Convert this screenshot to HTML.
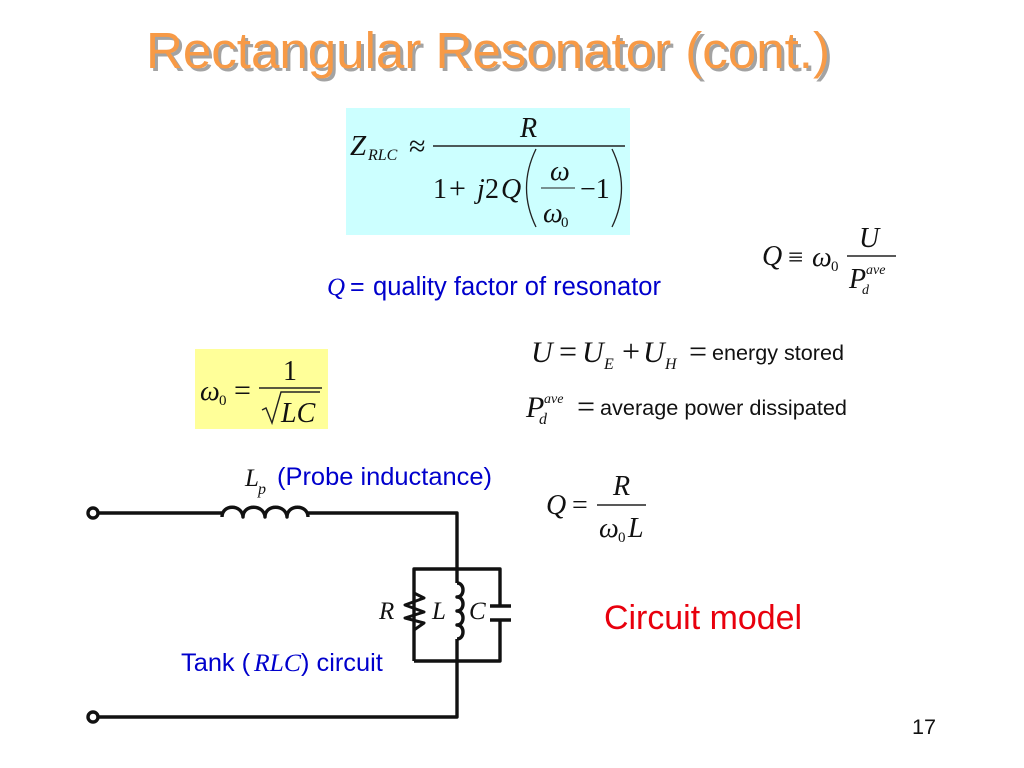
<!DOCTYPE html>
<html><head><meta charset="utf-8"><style>
html,body{margin:0;padding:0;background:#fff;width:1024px;height:768px;overflow:hidden}
svg{display:block}
.s{font-family:"Liberation Sans",sans-serif}
.t{font-family:"Liberation Serif",serif}
.i{font-family:"Liberation Serif",serif;font-style:italic}
</style></head><body>
<svg width="1024" height="768" viewBox="0 0 1024 768" xmlns="http://www.w3.org/2000/svg">
<rect width="1024" height="768" fill="#fff"/>
<!-- title -->
<text class="s" x="149" y="71" font-size="51" fill="#a3a3a3" textLength="684" lengthAdjust="spacingAndGlyphs">Rectangular Resonator (cont.)</text>
<text class="s" x="146" y="68" font-size="51" fill="#f79a46" textLength="684" lengthAdjust="spacingAndGlyphs">Rectangular Resonator (cont.)</text>
<!-- blue box -->
<rect x="346" y="108" width="284" height="127" fill="#ccffff"/>
<text class="i" x="350" y="155" font-size="29" fill="#111">Z</text>
<text class="i" x="368" y="160" font-size="16" fill="#111">RLC</text>
<text class="t" x="409" y="156" font-size="30" fill="#111">≈</text>
<line x1="433" y1="146" x2="625" y2="146" stroke="#222" stroke-width="1.4"/>
<text class="i" x="520" y="137" font-size="28" fill="#111">R</text>
<text class="t" x="433" y="198" font-size="28" fill="#111">1</text>
<text class="t" x="449" y="198" font-size="30" fill="#111">+</text>
<text class="i" x="477" y="198" font-size="28" fill="#111">j</text>
<text class="t" x="485" y="198" font-size="28" fill="#111">2</text>
<text class="i" x="501" y="198" font-size="28" fill="#111">Q</text>
<path d="M536 149 Q517 188 536 227" fill="none" stroke="#222" stroke-width="1.3"/>
<path d="M612 149 Q631 188 612 227" fill="none" stroke="#222" stroke-width="1.3"/>
<text class="i" x="550" y="180" font-size="28" fill="#111">ω</text>
<line x1="541" y1="188" x2="575" y2="188" stroke="#222" stroke-width="1.1"/>
<text class="i" x="543" y="222" font-size="28" fill="#111">ω</text>
<text class="t" x="561" y="227" font-size="15" fill="#111">0</text>
<text class="t" x="580" y="198" font-size="28" fill="#111">−1</text>
<!-- Q def -->
<text class="i" x="762" y="265" font-size="28" fill="#111">Q</text>
<text class="t" x="788" y="266" font-size="27" fill="#111">≡</text>
<text class="i" x="812" y="266" font-size="28" fill="#111">ω</text>
<text class="t" x="831" y="271" font-size="15" fill="#111">0</text>
<line x1="847" y1="256" x2="896" y2="256" stroke="#222" stroke-width="1.4"/>
<text class="i" x="859" y="247" font-size="28" fill="#111">U</text>
<text class="i" x="849" y="288" font-size="28" fill="#111">P</text>
<text class="i" x="866" y="274" font-size="14" fill="#111">ave</text>
<text class="i" x="862" y="294" font-size="14" fill="#111">d</text>
<!-- quality -->
<text class="i" x="327" y="295" font-size="25" fill="#0000cc">Q</text>
<text class="s" x="350" y="295" font-size="25" fill="#0000cc">=</text>
<text class="s" x="373" y="295" font-size="25.5" fill="#0000cc" textLength="288" lengthAdjust="spacingAndGlyphs">quality factor of resonator</text>
<!-- U -->
<text class="i" x="531" y="362" font-size="30" fill="#111">U</text>
<text class="t" x="559" y="362" font-size="32" fill="#111">=</text>
<text class="i" x="582" y="362" font-size="30" fill="#111">U</text>
<text class="i" x="604" y="369" font-size="16" fill="#111">E</text>
<text class="t" x="622" y="362" font-size="32" fill="#111">+</text>
<text class="i" x="643" y="362" font-size="30" fill="#111">U</text>
<text class="i" x="665" y="369" font-size="16" fill="#111">H</text>
<text class="t" x="689" y="362" font-size="32" fill="#111">=</text>
<text class="s" x="712" y="360" font-size="21.6" fill="#111" textLength="132" lengthAdjust="spacingAndGlyphs">energy stored</text>
<!-- P -->
<text class="i" x="526" y="417" font-size="30" fill="#111">P</text>
<text class="i" x="544" y="403" font-size="14" fill="#111">ave</text>
<text class="i" x="539" y="424" font-size="16" fill="#111">d</text>
<text class="t" x="577" y="417" font-size="32" fill="#111">=</text>
<text class="s" x="600" y="415" font-size="21.6" fill="#111" textLength="247" lengthAdjust="spacingAndGlyphs">average power dissipated</text>
<!-- yellow -->
<rect x="195" y="349" width="133" height="80" fill="#ffff99"/>
<text class="i" x="200" y="400" font-size="28" fill="#111">ω</text>
<text class="t" x="219" y="405" font-size="15" fill="#111">0</text>
<text class="t" x="234" y="400" font-size="30" fill="#111">=</text>
<line x1="259" y1="388" x2="322" y2="388" stroke="#222" stroke-width="1.5"/>
<text class="t" x="283" y="380" font-size="28" fill="#111">1</text>
<path d="M262 410 L266 408 L272 423 L281 392 L320 392" fill="none" stroke="#222" stroke-width="1.4"/>
<text class="i" x="281" y="422" font-size="28" fill="#111">LC</text>
<!-- Q=R/w0L -->
<text class="i" x="546" y="514" font-size="28" fill="#111">Q</text>
<text class="t" x="572" y="514" font-size="28" fill="#111">=</text>
<line x1="597" y1="505" x2="646" y2="505" stroke="#222" stroke-width="1.4"/>
<text class="i" x="613" y="495" font-size="28" fill="#111">R</text>
<text class="i" x="599" y="537" font-size="28" fill="#111">ω</text>
<text class="t" x="618" y="542" font-size="15" fill="#111">0</text>
<text class="i" x="628" y="537" font-size="28" fill="#111">L</text>
<!-- labels -->
<text class="i" x="245" y="486" font-size="25" fill="#111">L</text>
<text class="i" x="258" y="494" font-size="16" fill="#111">p</text>
<text class="s" x="277" y="485" font-size="25.4" fill="#0000cc" textLength="215" lengthAdjust="spacingAndGlyphs">(Probe inductance)</text>
<text class="s" x="181" y="671" font-size="25.4" fill="#0000cc">Tank (</text>
<text class="i" x="254" y="671" font-size="25" fill="#0000cc" textLength="47" lengthAdjust="spacingAndGlyphs">RLC</text>
<text class="s" x="301" y="671" font-size="25.4" fill="#0000cc">) circuit</text>
<text class="i" x="379" y="619" font-size="25" fill="#111">R</text>
<text class="i" x="432" y="619" font-size="25" fill="#111">L</text>
<text class="i" x="469" y="619" font-size="25" fill="#111">C</text>
<text class="s" x="604" y="629" font-size="33.9" fill="#e8000d" textLength="198" lengthAdjust="spacingAndGlyphs">Circuit model</text>
<text class="s" x="912" y="734" font-size="21.6" fill="#111">17</text>
<!-- circuit -->
<g fill="none" stroke="#111" stroke-width="3.4" stroke-linejoin="round">
<circle cx="93" cy="513" r="5"/>
<circle cx="93" cy="717" r="5"/>
<path d="M98 513 H222 M308 513 H457 V583 M457 639 V717 H98"/>
<path d="M222 517 C222 504 242 504 243 517 C243 504 264 504 265 517 C265 504 286 504 287 517 C287 504 308 504 308 517"/>
<path d="M414 661 V569 H500 V606 M500 620 V661 H414"/>
<path d="M414 593 L424 598 L405 605 L424 612 L405 618 L424 623 L414 630" stroke-width="3"/>
<path d="M457 583 C465 583 465 597 457 597 C465 597 465 611 457 611 C465 611 465 625 457 625 C465 625 465 639 457 639"/>
<path d="M490 606 H511 M490 620 H511"/>
</g>
</svg>
</body></html>
